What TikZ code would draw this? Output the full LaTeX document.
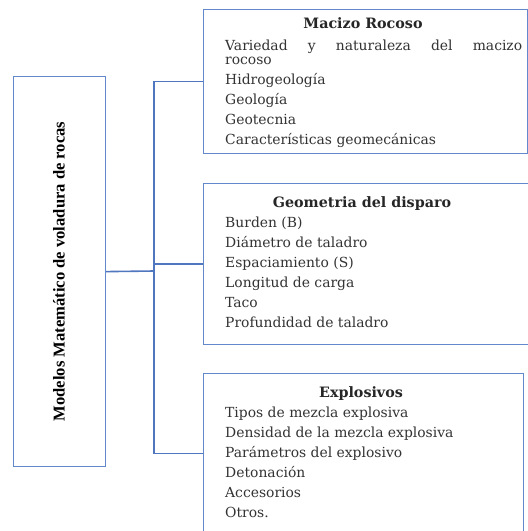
\documentclass[tikz,border=0pt]{standalone}
\usepackage{fontspec}
\setmainfont{DejaVu Serif}
\newfontfamily\rootfont{Liberation Serif}
\begin{document}
\begin{tikzpicture}[x=1pt,y=-1pt,
  boxcol/.style={draw={rgb,255:red,100;green,136;blue,204}},
  box/.style={boxcol, line width=1.2pt, rectangle, anchor=north west, inner sep=0pt},
  conn/.style={draw={rgb,255:red,80;green,118;blue,192}, line width=1.6pt},
  title/.style={font=\fontsize{14.3}{16}\selectfont\bfseries, inner sep=0pt, anchor=base, text=black!85},
  item/.style={font=\fontsize{13.9}{15}\selectfont, anchor=base west, inner sep=0pt, text=black!80}]
\clip (0,0) rectangle (528,531);
\fill[white] (0,0) rectangle (528,531);
% root box
\node[box, minimum width=92pt, minimum height=390pt] (root) at (13,76) {};
\node[rotate=90, font=\rootfont\fontsize{16.6}{18}\selectfont\bfseries] (roottxt) at (59,271.5) {Modelos Matemático de voladura de rocas};
% boxes
\node[box, minimum width=324pt, minimum height=144pt] (b1) at (203,9) {};
\node[box, minimum width=332pt, minimum height=161pt] (b2) at (203,183) {};
\node[box, minimum width=320pt, minimum height=160pt] (b3) at (203,373) {};
% connectors
\coordinate (j) at (154,271);
\draw[conn] (root.east) -- (j);
\draw[conn] (b1.west) -- (b1.west -| j) -- (b3.west -| j) -- (b3.west);
\draw[conn] (j |- b2.west) -- (b2.west);
% box 1
\node[title] (t1) at (363,28.5) {Macizo Rocoso};
\node[item] (i11) at (225,50.3) {\vtop{\baselineskip=14pt \lineskiplimit=-20pt
  \hbox{\makebox[297pt][s]{Variedad y naturaleza del macizo}}\hbox{rocoso}}};
\node[item] (i13) at (225,84.5) {Hidrogeología};
\node[item] (i14) at (225,104.5) {Geología};
\node[item] (i15) at (225,124.5) {Geotecnia};
\node[item] (i16) at (225,144.5) {Características geomecánicas};
% box 2
\node[title] (t2) at (362,207.5) {Geometria del disparo};
\node[item] (i21) at (225,227.5) {Burden (B)};
\node[item] (i22) at (225,247.5) {Diámetro de taladro};
\node[item] (i23) at (225,267.5) {Espaciamiento (S)};
\node[item] (i24) at (225,287.5) {Longitud de carga};
\node[item] (i25) at (225,307.5) {Taco};
\node[item] (i26) at (225,327.5) {Profundidad de taladro};
% box 3
\node[title] (t3) at (361,397.5) {Explosivos};
\node[item] (i31) at (225,417.5) {Tipos de mezcla explosiva};
\node[item] (i32) at (225,437.5) {Densidad de la mezcla explosiva};
\node[item] (i33) at (225,457.5) {Parámetros del explosivo};
\node[item] (i34) at (225,477.5) {Detonación};
\node[item] (i35) at (225,497.5) {Accesorios};
\node[item] (i36) at (225,517.5) {Otros.};
\end{tikzpicture}
\end{document}
